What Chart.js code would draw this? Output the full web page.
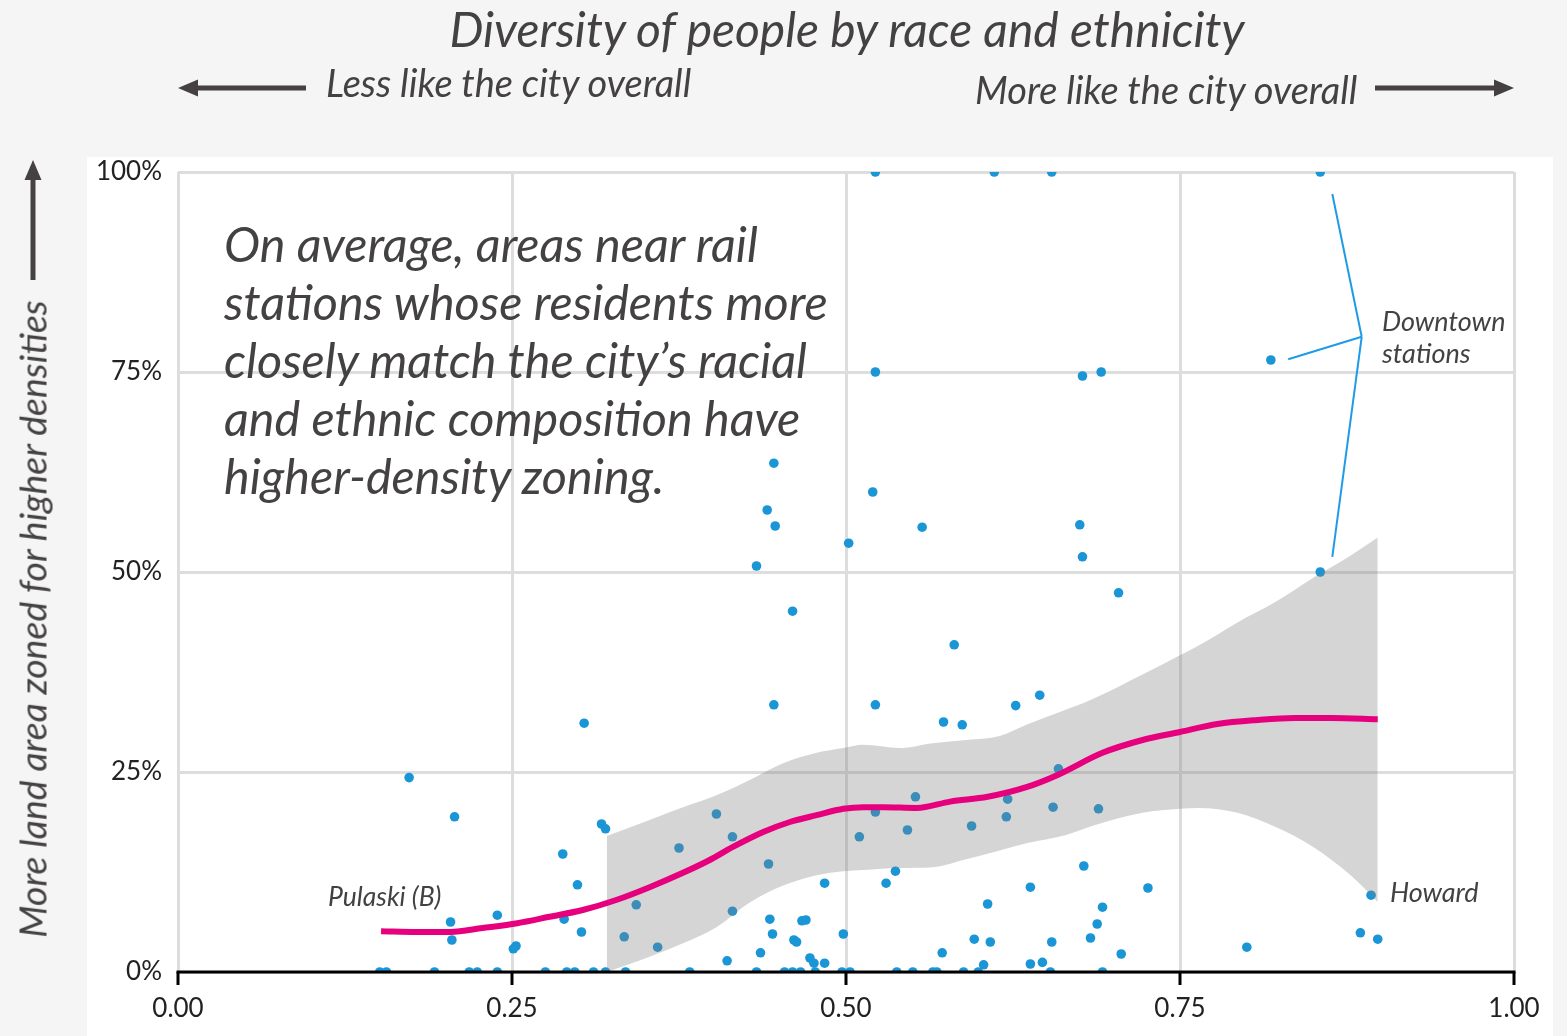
<!DOCTYPE html>
<html>
<head>
<meta charset="utf-8">
<script src="https://cdn.jsdelivr.net/npm/chart.js@4.4.1/dist/chart.umd.min.js"></script>
<style>
  html, body { margin: 0; padding: 0; background: #f5f5f5; }
  #wrap { position: relative; width: 1567px; height: 1036px; overflow: hidden; }
  #wrap canvas { position: absolute; left: 0; top: 0; }
  .txt {
    position: absolute;
    font-family: Lato, "Open Sans", sans-serif;
    font-style: italic;
    color: #444142;
    white-space: nowrap;
    line-height: 1.2;
  }
</style>
</head>
<body>
<div id="wrap">
  <canvas id="chart" width="1567" height="1036"></canvas>
  <div class="txt" style="left:847px; top:0px; font-size:48px; transform:translateX(-50%);">Diversity of people by race and ethnicity</div>
  <div class="txt" style="left:326px; top:60px; font-size:38px;">Less like the city overall</div>
  <div class="txt" style="left:975px; top:67px; font-size:38px;">More like the city overall</div>
  <div class="txt" style="left:32px; top:619px; font-size:37.5px; transform:translate(-50%,-50%) rotate(-90deg);">More land area zoned for higher densities</div>
  <div class="txt" style="left:224px; top:214px; font-size:48.5px; line-height:58px;">On average, areas near rail<br>stations whose residents more<br>closely match the city’s racial<br>and ethnic composition have<br>higher-density zoning.</div>
  <div class="txt" style="left:328px; top:881px; font-size:26.5px;">Pulaski (B)</div>
  <div class="txt" style="left:1390px; top:876px; font-size:27px;">Howard</div>
  <div class="txt" style="left:1382px; top:305px; font-size:27px; line-height:32px;">Downtown<br>stations</div>
</div>
<script>
// Stations: diversity index (x) vs share of land zoned for higher density (y, %)
const stationX = [
  0.522, 0.611, 0.654, 0.855, 0.522, 0.677, 0.691, 0.818, 0.446, 0.520,
  0.441, 0.447, 0.557, 0.675, 0.502, 0.677, 0.433, 0.855, 0.704, 0.460,
  0.581, 0.645, 0.446, 0.522, 0.627, 0.304, 0.573, 0.587, 0.659, 0.173,
  0.552, 0.621, 0.655, 0.689, 0.522, 0.403, 0.207, 0.620, 0.317, 0.320,
  0.594, 0.546, 0.415, 0.510, 0.375, 0.288, 0.442, 0.678, 0.537, 0.484,
  0.530, 0.299, 0.638, 0.726, 0.893, 0.606, 0.343, 0.692, 0.415, 0.239,
  0.289, 0.443, 0.470, 0.467, 0.204, 0.688, 0.302, 0.885, 0.445, 0.498,
  0.334, 0.683, 0.596, 0.898, 0.205, 0.461, 0.463, 0.608, 0.654, 0.253,
  0.359, 0.800, 0.251, 0.436, 0.572, 0.706, 0.473, 0.411, 0.647, 0.476,
  0.484, 0.638, 0.603,
  // stations with no higher-density zoning
  0.151, 0.156, 0.192, 0.218, 0.224, 0.239, 0.275, 0.291, 0.297, 0.311,
  0.320, 0.335, 0.383, 0.433, 0.454, 0.460, 0.466, 0.477, 0.497, 0.503,
  0.538, 0.550, 0.565, 0.568, 0.588, 0.599, 0.653, 0.692
];
const stationY = [
  100, 100, 100, 100, 75, 74.5, 75, 76.5, 63.6, 60,
  57.75, 55.75, 55.6, 55.9, 53.6, 51.9, 50.75, 50, 47.4, 45.1,
  40.9, 34.6, 33.4, 33.4, 33.3, 31.1, 31.25, 30.9, 25.4, 24.3,
  21.9, 21.6, 20.6, 20.4, 20, 19.75, 19.4, 19.4, 18.5, 17.9,
  18.25, 17.75, 16.9, 16.9, 15.5, 14.75, 13.5, 13.25, 12.6, 11.1,
  11.1, 10.9, 10.6, 10.5, 9.6, 8.5, 8.4, 8.1, 7.6, 7.1,
  6.6, 6.6, 6.5, 6.4, 6.25, 6.0, 5.0, 4.9, 4.75, 4.75,
  4.4, 4.25, 4.1, 4.1, 4.0, 4.0, 3.75, 3.75, 3.75, 3.25,
  3.1, 3.1, 2.9, 2.4, 2.4, 2.25, 1.75, 1.4, 1.2, 1.1,
  1.1, 1.0, 0.9,
  0, 0, 0, 0, 0, 0, 0, 0, 0, 0,
  0, 0, 0, 0, 0, 0, 0, 0, 0, 0,
  0, 0, 0, 0, 0, 0, 0, 0
];

// Smoothed trend
const fitX = [0.152, 0.179, 0.204, 0.228, 0.254, 0.278, 0.303, 0.328, 0.353, 0.378, 0.398,
  0.415, 0.438, 0.458, 0.478, 0.498, 0.513, 0.528, 0.553, 0.578, 0.606, 0.635, 0.658,
  0.692, 0.722, 0.750, 0.778, 0.808, 0.836, 0.864, 0.898];
const fitY = [5.1, 5.0, 5.0, 5.5, 6.1, 6.9, 7.75, 9.0, 10.6, 12.4, 14.0,
  15.6, 17.5, 18.75, 19.6, 20.4, 20.6, 20.6, 20.5, 21.3, 21.9, 23.1, 24.6,
  27.4, 29.0, 30.0, 31.0, 31.5, 31.75, 31.75, 31.6];

// Confidence band
const bandX = [0.321, 0.353, 0.378, 0.403, 0.428, 0.453, 0.478, 0.498, 0.513, 0.540, 0.565,
  0.590, 0.615, 0.635, 0.664, 0.683, 0.722, 0.750, 0.764, 0.793, 0.822, 0.850, 0.879, 0.898];
const bandUpper = [17.0, 19.0, 20.6, 22.1, 24.0, 26.1, 27.4, 28.0, 28.4, 28.0, 28.6,
  29.0, 29.5, 30.9, 32.75, 34.0, 37.2, 39.6, 40.8, 43.7, 46.3, 49.3, 52.2, 54.3];
const bandLower = [0, 1.9, 3.6, 5.6, 8.7, 10.8, 12.1, 12.6, 12.75, 13.0, 13.1,
  14.1, 15.2, 16.1, 17.1, 18.2, 19.9, 20.4, 20.5, 19.9, 18.1, 15.6, 11.9, 8.75];

const xTicks = [0, 0.25, 0.5, 0.75, 1];

// Downtown bracket: top end, middle end, bottom end, all joined at the vertex
const bracketVertex = { x: 0.886, y: 79.4 };
const bracketEnds = [
  { x: 0.864, y: 97.25 },
  { x: 0.831, y: 76.6 },
  { x: 0.864, y: 51.9 },
];

const toPoints = (xs, ys) => xs.map((x, i) => ({ x: x, y: ys[i] }));

const ink = "#454142";

const drawArrow = (ctx, x1, y1, x2, y2) => {
  // line from (x1,y1) with arrow head at (x2,y2)
  const ang = Math.atan2(y2 - y1, x2 - x1);
  const headLen = 20, headW = 8.5;
  const bx = x2 - Math.cos(ang) * headLen;
  const by = y2 - Math.sin(ang) * headLen;
  ctx.strokeStyle = ink;
  ctx.fillStyle = ink;
  ctx.lineWidth = 5;
  ctx.beginPath();
  ctx.moveTo(x1, y1);
  ctx.lineTo(bx, by);
  ctx.stroke();
  ctx.beginPath();
  ctx.moveTo(x2, y2);
  ctx.lineTo(bx - Math.sin(ang) * headW, by + Math.cos(ang) * headW);
  ctx.lineTo(bx + Math.sin(ang) * headW, by - Math.cos(ang) * headW);
  ctx.closePath();
  ctx.fill();
};

const decorations = {
  id: "decorations",
  beforeDraw(chart) {
    const ctx = chart.ctx;
    ctx.save();
    ctx.fillStyle = "#f5f5f5";
    ctx.fillRect(0, 0, chart.width, chart.height);
    ctx.fillStyle = "#ffffff";
    ctx.fillRect(87, 157, 1466, chart.height - 157);
    drawArrow(ctx, 306, 88, 178, 88);
    drawArrow(ctx, 1375, 88, 1514, 88);
    drawArrow(ctx, 33, 280, 33, 160);
    ctx.restore();
  },
  afterDatasetsDraw(chart) {
    const ctx = chart.ctx;
    const xs = chart.scales.x;
    const ys = chart.scales.y;
    ctx.save();
    // bottom axis with tick marks
    const y0 = ys.getPixelForValue(0);
    ctx.strokeStyle = "#000000";
    ctx.lineWidth = 3;
    ctx.beginPath();
    ctx.moveTo(xs.getPixelForValue(0) - 1.5, y0);
    ctx.lineTo(xs.getPixelForValue(1) + 1.5, y0);
    ctx.stroke();
    xTicks.forEach((t) => {
      const px = xs.getPixelForValue(t);
      ctx.beginPath();
      ctx.moveTo(px, y0);
      ctx.lineTo(px, y0 + 13);
      ctx.stroke();
    });
    // downtown bracket
    ctx.strokeStyle = "#1f9be6";
    ctx.lineWidth = 2;
    const vx = xs.getPixelForValue(bracketVertex.x);
    const vy = ys.getPixelForValue(bracketVertex.y);
    bracketEnds.forEach((p) => {
      ctx.beginPath();
      ctx.moveTo(vx, vy);
      ctx.lineTo(xs.getPixelForValue(p.x), ys.getPixelForValue(p.y));
      ctx.stroke();
    });
    ctx.restore();
  },
};

const tickFont = { family: "Lato, 'Open Sans', sans-serif", size: 26 };

new Chart(document.getElementById("chart"), {
  type: "scatter",
  data: {
    datasets: [
      {
        label: "Stations",
        data: toPoints(stationX, stationY),
        backgroundColor: "#1a95d5",
        borderWidth: 0,
        pointRadius: 4.8,
        order: 4,
      },
      {
        type: "line",
        label: "Upper",
        data: toPoints(bandX, bandUpper),
        borderWidth: 0,
        pointRadius: 0,
        tension: 0.4,
        cubicInterpolationMode: "monotone",
        fill: "+1",
        backgroundColor: "rgba(128, 128, 128, 0.33)",
        order: 2,
      },
      {
        type: "line",
        label: "Lower",
        data: toPoints(bandX, bandLower),
        borderWidth: 0,
        pointRadius: 0,
        tension: 0.4,
        cubicInterpolationMode: "monotone",
        fill: false,
        order: 2,
      },
      {
        type: "line",
        label: "Trend",
        data: toPoints(fitX, fitY),
        borderColor: "#e6007e",
        borderWidth: 6,
        pointRadius: 0,
        tension: 0.4,
        cubicInterpolationMode: "monotone",
        fill: false,
        order: 1,
      },
    ],
  },
  options: {
    responsive: false,
    animation: false,
    layout: { padding: { top: 172, right: 53, left: 0, bottom: 0 } },
    plugins: {
      legend: { display: false },
      tooltip: { enabled: false },
    },
    scales: {
      x: {
        type: "linear",
        min: 0,
        max: 1,
        afterFit: (scale) => { scale.height = 64; },
        afterBuildTicks: (scale) => { scale.ticks = xTicks.map((v) => ({ value: v })); },
        ticks: {
          callback: (v) => Number(v).toFixed(2),
          font: tickFont,
          color: "#222222",
          padding: 21,
          maxRotation: 0,
        },
        grid: { color: "#dddddd", lineWidth: 3, drawTicks: false },
        border: { display: false },
      },
      y: {
        min: 0,
        max: 100,
        afterFit: (scale) => { scale.width = 178; },
        ticks: {
          stepSize: 25,
          callback: (v) => v + "%",
          font: tickFont,
          color: "#222222",
          padding: 16,
        },
        grid: { color: "#dddddd", lineWidth: 3, drawTicks: false },
        border: { display: false },
      },
    },
  },
  plugins: [decorations],
});
</script>
</body>
</html>
